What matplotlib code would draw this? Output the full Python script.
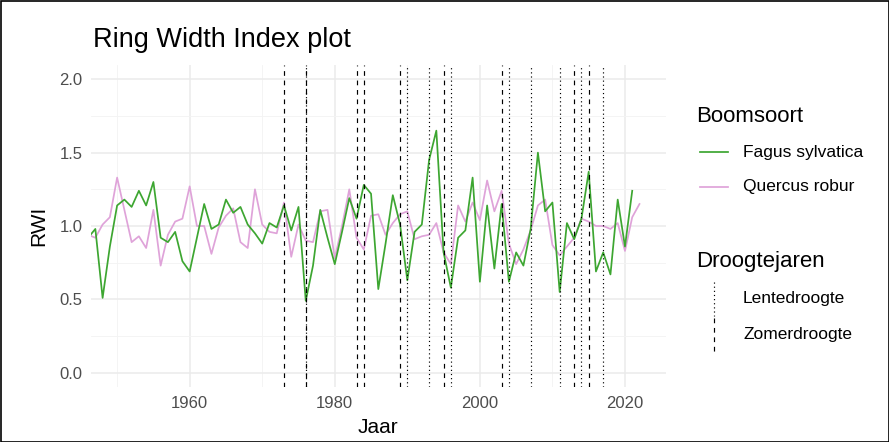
import numpy as np
import matplotlib
matplotlib.use("Agg")
import matplotlib.pyplot as plt
from matplotlib.lines import Line2D

plt.rcParams["font.family"] = ["Liberation Sans", "DejaVu Sans"]

# ring width index per year
jaren_fagus = list(range(1946, 2022))
rwi_fagus = [
    0.92, 0.98, 0.51, 0.86, 1.14, 1.18, 1.13, 1.24, 1.14, 1.30,   # 1946-1955
    0.92, 0.89, 0.96, 0.76, 0.69, 0.92, 1.15, 0.98, 1.01, 1.18,   # 1956-1965
    1.09, 1.13, 1.01, 0.95, 0.88, 1.02, 0.99, 1.14, 0.97, 1.13,   # 1966-1975
    0.49, 0.73, 1.11, 0.92, 0.74, 0.96, 1.19, 1.05, 1.28, 1.22,   # 1976-1985
    0.57, 0.88, 1.21, 1.01, 0.63, 0.96, 1.01, 1.45, 1.65, 0.82,   # 1986-1995
    0.58, 0.92, 0.97, 1.33, 0.62, 1.14, 0.71, 1.15, 0.62, 0.82,   # 1996-2005
    0.73, 0.98, 1.50, 1.10, 1.16, 0.55, 1.02, 0.91, 1.05, 1.37,   # 2006-2015
    0.69, 0.82, 0.67, 1.18, 0.86, 1.24,                           # 2016-2021
]

jaren_quercus = list(range(1946, 2023))
rwi_quercus = [
    0.94, 0.92, 1.01, 1.06, 1.33, 1.11, 0.89, 0.93, 0.85, 1.11,   # 1946-1955
    0.73, 0.94, 1.03, 1.05, 1.27, 1.00, 1.00, 0.81, 0.99, 1.07,   # 1956-1965
    1.12, 0.89, 0.85, 1.25, 1.01, 0.96, 0.95, 1.16, 0.79, 1.01,   # 1966-1975
    0.90, 0.89, 1.10, 1.11, 0.78, 1.00, 1.25, 0.92, 0.84, 1.07,   # 1976-1985
    1.08, 0.94, 1.02, 1.08, 1.10, 0.91, 0.93, 0.94, 1.02, 0.82,   # 1986-1995
    0.74, 1.14, 1.03, 1.16, 1.04, 1.31, 1.10, 1.24, 0.88, 0.74,   # 1996-2005
    0.84, 0.97, 1.14, 1.18, 0.87, 0.80, 0.86, 0.92, 1.05, 1.03,   # 2006-2015
    1.00, 1.00, 0.98, 1.02, 0.83, 1.06, 1.15,                     # 2016-2022
]

# drought years
lentedroogte = [1976, 1990, 1993, 1996, 2004, 2007, 2011, 2014, 2017]
zomerdroogte = [1973, 1976, 1983, 1984, 1989, 1995, 2003, 2013, 2015]

groen = "#3DA631"
roze = "#DFA3D9"
W, H = 889, 442

fig = plt.figure(figsize=(W / 100, H / 100), dpi=100)
ax = fig.add_axes([91 / W, 1 - 387.4 / H, (665.6 - 91) / W, (387.4 - 64.6) / H])

# theme_minimal style grid
ax.set_xlim(1946.4, 2025.6)
ax.set_ylim(-0.1, 2.1)
ax.set_xticks([1960, 1980, 2000, 2020])
ax.set_xticks([1950, 1970, 1990, 2010], minor=True)
ax.set_yticks([0.0, 0.5, 1.0, 1.5, 2.0])
ax.set_yticks([0.25, 0.75, 1.25, 1.75], minor=True)
ax.set_yticklabels(["0.0", "0.5", "1.0", "1.5", "2.0"])
ax.grid(which="major", color="#EBEBEB", linewidth=1.1)
ax.grid(which="minor", color="#F3F3F3", linewidth=0.6)
ax.set_axisbelow(True)
for s in ax.spines.values():
    s.set_visible(False)
ax.tick_params(which="both", length=0, labelsize=12, labelcolor="#4D4D4D", pad=6)

ax.plot(jaren_fagus, rwi_fagus, color=groen, linewidth=1.25, zorder=3)
ax.plot(jaren_quercus, rwi_quercus, color=roze, linewidth=1.25, zorder=2)

for j in lentedroogte:
    ax.axvline(j, color="black", linewidth=0.85, linestyle=(0, (1, 2.5)), zorder=4)
for j in zomerdroogte:
    ax.axvline(j, color="black", linewidth=0.85, linestyle=(0, (4, 4)), zorder=4)

ax.set_xlabel("Jaar", fontsize=15, labelpad=5)
ax.set_ylabel("RWI", fontsize=15, labelpad=8)
fig.text(93 / W, 1 - 40 / H, "Ring Width Index plot", fontsize=19.5, va="center", ha="left")

# legends, drawn on an overlay in pixel units
lg = fig.add_axes([0, 0, 1, 1])
lg.set_xlim(0, W)
lg.set_ylim(H, 0)
lg.axis("off")
lg.patch.set_alpha(0)

lg.text(696, 116, "Boomsoort", fontsize=16, va="center", ha="left")
lg.add_line(Line2D([700, 728], [152, 152], color=groen, linewidth=1.25))
lg.text(743, 152, "Fagus sylvatica", fontsize=12.5, va="center", ha="left")
lg.add_line(Line2D([700, 728], [187, 187], color=roze, linewidth=1.25))
lg.text(743, 187, "Quercus robur", fontsize=12.5, va="center", ha="left")

lg.text(696, 262, "Droogtejaren", fontsize=16, va="center", ha="left")
lg.add_line(Line2D([714, 714], [282, 316], color="black", linewidth=0.85, linestyle=(0, (1, 2.5))))
lg.text(743, 299, "Lentedroogte", fontsize=12.5, va="center", ha="left")
lg.add_line(Line2D([714, 714], [318, 352], color="black", linewidth=0.85, linestyle=(0, (4, 4))))
lg.text(743, 335, "Zomerdroogte", fontsize=12.5, va="center", ha="left")

# frame around the figure
lg.add_patch(plt.Rectangle((0.5, 0.5), W - 1, H - 1, fill=False, edgecolor="black", linewidth=1.2))

fig.savefig("out.png", dpi=100)
